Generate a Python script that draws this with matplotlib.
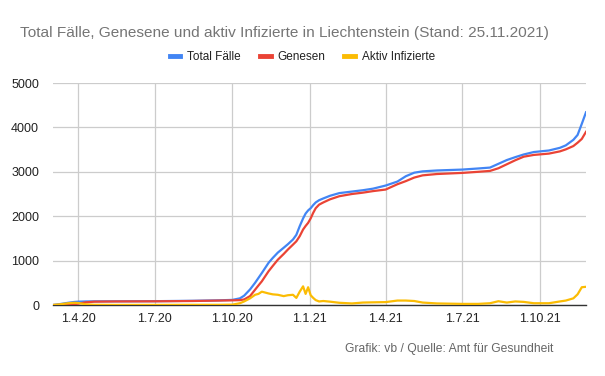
import matplotlib
matplotlib.use("Agg")
import matplotlib.pyplot as plt
import pandas as pd

# Data
dates = ["2020-03-02", "2020-03-10", "2020-03-20", "2020-03-27", "2020-04-01", "2020-04-10",
         "2020-04-20", "2020-05-15", "2020-07-01", "2020-08-15", "2020-09-15", "2020-10-01",
         "2020-10-10", "2020-10-15", "2020-10-22", "2020-10-28", "2020-11-01", "2020-11-05",
         "2020-11-13", "2020-11-18", "2020-11-24", "2020-12-01", "2020-12-06", "2020-12-12",
         "2020-12-16", "2020-12-20", "2020-12-24", "2020-12-27", "2020-12-30", "2021-01-02",
         "2021-01-05", "2021-01-08", "2021-01-12", "2021-01-17", "2021-01-25", "2021-02-05",
         "2021-02-20", "2021-03-05", "2021-03-17", "2021-04-01", "2021-04-15", "2021-04-25",
         "2021-05-05", "2021-05-15", "2021-06-01", "2021-07-01", "2021-07-20", "2021-08-03",
         "2021-08-13", "2021-08-23", "2021-09-02", "2021-09-12", "2021-09-24", "2021-10-12",
         "2021-10-25", "2021-11-01", "2021-11-10", "2021-11-15", "2021-11-20", "2021-11-25"]

total = [0, 20, 50, 68, 75, 80,
         82, 83, 86, 95, 105, 115,
         150, 210, 350, 500, 610, 720,
         950, 1060, 1180, 1290, 1370, 1475,
         1580, 1775, 1950, 2060, 2130, 2180,
         2250, 2310, 2360, 2400, 2460, 2520,
         2555, 2585, 2620, 2690, 2780, 2900,
         2980, 3010, 3030, 3050, 3075, 3095,
         3180, 3265, 3330, 3390, 3445, 3480,
         3540, 3595, 3720, 3830, 4080, 4340]

genesen = [0, 0, 5, 15, 30, 60,
           75, 80, 83, 90, 100, 105,
           110, 125, 200, 345, 440, 533,
           760, 880, 1020, 1150, 1250, 1360,
           1435, 1550, 1700, 1780, 1850, 1950,
           2075, 2180, 2260, 2310, 2380, 2450,
           2500, 2530, 2565, 2600, 2720, 2790,
           2870, 2920, 2950, 2975, 3000, 3020,
           3080, 3170, 3260, 3340, 3380, 3410,
           3460, 3505, 3580, 3655, 3740, 3900]

aktiv = [0, 15, 40, 50, 45, 15,
         5, 2, 2, 4, 4, 8,
         40, 80, 150, 230, 250, 300,
         260, 240, 230, 200, 220, 230,
         160, 300, 420, 250, 400, 220,
         160, 110, 80, 90, 75, 50,
         35, 55, 60, 65, 100, 100,
         90, 55, 35, 25, 25, 40,
         85, 55, 80, 70, 40, 40,
         80, 100, 150, 240, 400, 410]

tick_dates = ["2020-04-01", "2020-07-01", "2020-10-01", "2021-01-01",
              "2021-04-01", "2021-07-01", "2021-10-01"]
tick_labels = ["1.4.20", "1.7.20", "1.10.20", "1.1.21", "1.4.21", "1.7.21", "1.10.21"]
y_ticks = [0, 1000, 2000, 3000, 4000, 5000]

x = pd.to_datetime(dates)

plt.rcParams["font.family"] = ["Liberation Sans", "DejaVu Sans"]

fig = plt.figure(figsize=(6.05, 3.76), dpi=100)
ax = fig.add_axes([53/605, 1-305/376, (586-53)/605, (305-83)/376])

ax.plot(x, total, color="#4285F4", lw=1.6, label="Total Fälle", zorder=3)
ax.plot(x, genesen, color="#EA4335", lw=1.6, label="Genesen", zorder=4)
ax.plot(x, aktiv, color="#FBBC04", lw=1.6, label="Aktiv Infizierte", zorder=5)

ax.set_xlim(x[0], x[-1])
ax.set_ylim(0, 5000)
ax.set_yticks(y_ticks)
ax.set_yticklabels([str(v) for v in y_ticks])
ax.set_xticks(pd.to_datetime(tick_dates))
ax.set_xticklabels(tick_labels)
ax.tick_params(axis="both", length=0, labelsize=9, colors="#222222")
ax.tick_params(axis="x", pad=6)
ax.tick_params(axis="y", pad=10)
ax.grid(True, color="#cccccc", lw=0.9)
ax.set_axisbelow(True)
for s in ["top", "right", "left"]:
    ax.spines[s].set_visible(False)
ax.spines["bottom"].set_color("#333333")
ax.spines["bottom"].set_linewidth(1.0)

fig.text(20/605, 1-32.5/376, "Total Fälle, Genesene und aktiv Infizierte in Liechtenstein (Stand: 25.11.2021)",
         fontsize=11.1, color="#757575", va="center", ha="left")

leg = fig.legend(loc="center", bbox_to_anchor=(0.5, 1-57/376), ncol=3, frameon=False,
                 fontsize=8.5, handlelength=0.9, handletextpad=0.6, columnspacing=1.6)
for h in leg.get_lines():
    h.set_linewidth(3.5)
for t in leg.get_texts():
    t.set_color("#222222")

fig.text(553/605, 1-349/376, "Grafik: vb / Quelle: Amt für Gesundheit",
         fontsize=8.7, color="#666666", va="center", ha="right")

fig.savefig("out.png", dpi=100)
